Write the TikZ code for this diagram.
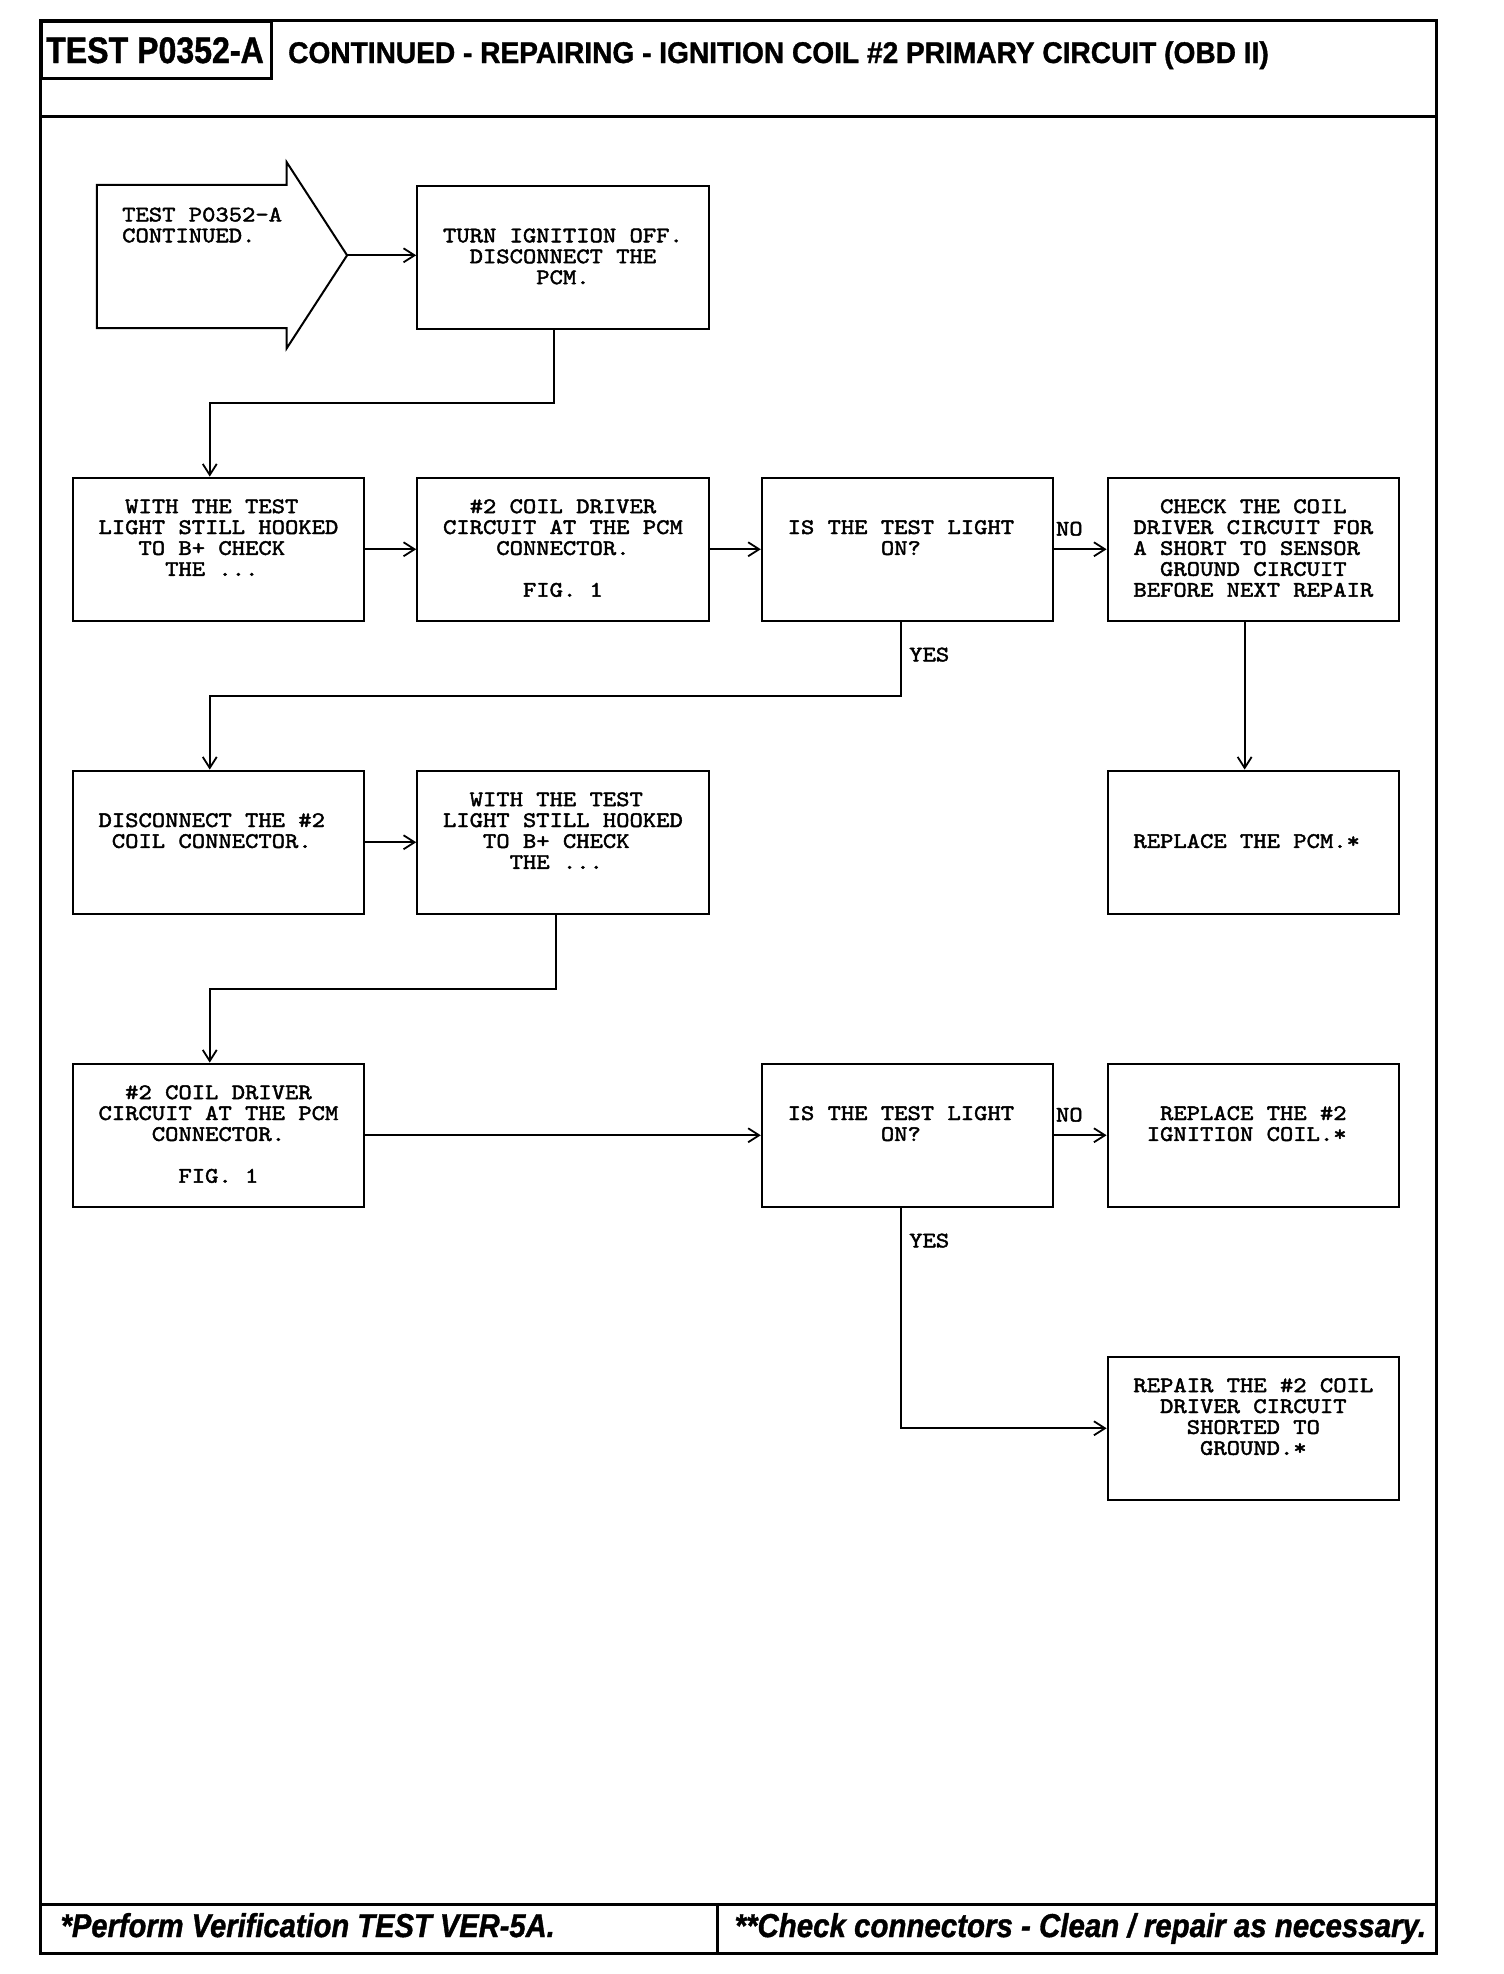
\documentclass[tikz,border=0pt]{standalone}
\usepackage{fontspec}
\usepackage{graphicx}
\setmainfont{Liberation Sans}
\newfontfamily\cour{lmmono10-regular.otf}[FakeStretch=1.143,FakeBold=2]
\usetikzlibrary{arrows.meta}
\newcommand\hc{\hphantom{X}}
\newcommand\boxfont{\cour\fontsize{22.2}{20.9}\selectfont}
\newcommand\heavy{\bfseries\addfontfeatures{FakeBold=1.2}}
\newcommand\flowbox[5]{%
  \node[boxst, anchor=north west] (#1) at (#2,-#3) {};
  \node[txt, anchor=north] (#1t) at ([yshift={-18.5pt-20.9pt*#4}]#1.north) {\rule{0pt}{17.8pt}#5};
}
\begin{document}
\begin{tikzpicture}[x=1pt,y=1pt,
  frame/.style={line width=3pt},
  boxst/.style={draw, line width=2pt, minimum width=291.5pt, minimum height=143.3pt, inner sep=0pt},
  txt/.style={font=\boxfont, align=center, inner sep=0pt},
  lbl/.style={font=\boxfont, inner sep=0pt},
  arr/.style={line width=2pt, -{Straight Barb[length=11pt,width=14pt,line width=1.8pt]}}]
\useasboundingbox (0,0) rectangle (1504,-1974);
% frame, header, footer
\draw[frame] (40,-20) rectangle (1436,-1953);
\draw[frame] (40,-116) -- (1436,-116);
\draw[frame] (40,-1904) -- (1436,-1904);
\draw[frame] (717,-1904) -- (717,-1953);
\node[draw, line width=3pt, anchor=north west, minimum width=230pt, minimum height=57pt, inner sep=0pt] (hbox) at (40,-20) {};
\node[anchor=base, inner sep=0pt] (htest) at (155,-63) {\fontsize{36.9}{40}\selectfont\heavy\scalebox{0.87}[1]{TEST P0352-A}};
\node[anchor=base west, inner sep=0pt] (htitle) at (288,-63) {\fontsize{29.9}{32}\selectfont\heavy\scalebox{0.94}[1]{CONTINUED - REPAIRING - IGNITION COIL \#2 PRIMARY CIRCUIT (OBD II)}};
\node[anchor=base west, inner sep=0pt] (f1) at (60.4,-1937) {\fontsize{33.1}{36}\selectfont\itshape\heavy\scalebox{0.88}[1]{*Perform Verification TEST VER-5A.}};
\node[anchor=base west, inner sep=0pt] (f2) at (734.4,-1937) {\fontsize{33.1}{36}\selectfont\itshape\heavy\scalebox{0.89}[1]{**Check connectors - Clean / repair as necessary.}};
% start arrow
\draw[line width=2pt] (96.8,-184.9) -- (286.7,-184.9) -- (286.7,-162.2) -- (347.1,-255.3) -- (286.7,-348.3) -- (286.7,-328.2) -- (96.8,-328.2) -- cycle;
\coordinate (tip) at (347.1,-255.3);
\node[txt, align=left, anchor=north west] (st) at (122,-203.4) {\rule{0pt}{17.8pt}TEST P0352-A\\CONTINUED.};
% boxes
\flowbox{turn}{416.2}{184.9}{1}{TURN IGNITION OFF.\\DISCONNECT THE\\PCM.}
\flowbox{a1}{71.7}{476.6}{0}{WITH THE TEST\hc\\LIGHT STILL HOOKED\\TO B+ CHECK\hc\\THE ...\hc}
\flowbox{a2}{416.2}{476.6}{0}{\#2 COIL DRIVER\\CIRCUIT AT THE PCM\\CONNECTOR.\\\mbox{}\\FIG. 1}
\flowbox{a3}{760.8}{476.6}{1}{IS THE TEST LIGHT\hc\\ON?\hc}
\flowbox{a4}{1106.6}{476.6}{0}{CHECK THE COIL\\DRIVER CIRCUIT FOR\\A SHORT TO SENSOR\hc\\GROUND CIRCUIT\\BEFORE NEXT REPAIR}
\flowbox{b1}{71.7}{769.6}{1}{DISCONNECT THE \#2\hc\\COIL CONNECTOR.\hc}
\flowbox{b2}{416.2}{769.6}{0}{WITH THE TEST\hc\\LIGHT STILL HOOKED\\TO B+ CHECK\hc\\THE ...\hc}
\flowbox{b4}{1106.6}{769.6}{2}{REPLACE THE PCM.*\hc}
\flowbox{c1}{71.7}{1062.6}{0}{\#2 COIL DRIVER\\CIRCUIT AT THE PCM\\CONNECTOR.\\\mbox{}\\FIG. 1}
\flowbox{c3}{760.8}{1062.6}{1}{IS THE TEST LIGHT\hc\\ON?\hc}
\flowbox{c4}{1106.6}{1062.6}{1}{REPLACE THE \#2\\IGNITION COIL.*\hc}
\flowbox{d4}{1106.6}{1355.6}{0}{REPAIR THE \#2 COIL\\DRIVER CIRCUIT\\SHORTED TO\\GROUND.*}
% connectors
\draw[arr] (tip) -- (tip -| turn.west);
\draw[arr] ([xshift=-8.7pt]turn.south) -- ++(0,-72.9) -| ([xshift=-8.7pt]a1.north);
\draw[arr] (a1.east) -- (a2.west);
\draw[arr] (a2.east) -- (a3.west);
\draw[arr] (a3.east) -- (a4.west);
\node[lbl, anchor=west] (no1) at ([xshift=1.5pt,yshift=20.5pt]a3.east) {NO};
\draw[arr] ([xshift=-6.2pt]a3.south) -- ++(0,-74.2) -| ([xshift=-8.7pt]b1.north);
\node[lbl, anchor=west] (yes1) at ([xshift=1.5pt,yshift=-32.7pt]a3.south) {YES};
\draw[arr] ([xshift=-8.7pt]a4.south) -- ([xshift=-8.7pt]b4.north);
\draw[arr] (b1.east) -- (b2.west);
\draw[arr] ([xshift=-7.4pt]b2.south) -- ++(0,-74.2) -| ([xshift=-8.7pt]c1.north);
\draw[arr] (c1.east) -- (c3.west);
\draw[arr] (c3.east) -- (c4.west);
\node[lbl, anchor=west] (no2) at ([xshift=1.5pt,yshift=20.5pt]c3.east) {NO};
\draw[arr] ([xshift=-6.2pt]c3.south) |- (d4.west);
\node[lbl, anchor=west] (yes2) at ([xshift=1.5pt,yshift=-32.7pt]c3.south) {YES};
\end{tikzpicture}
\end{document}
